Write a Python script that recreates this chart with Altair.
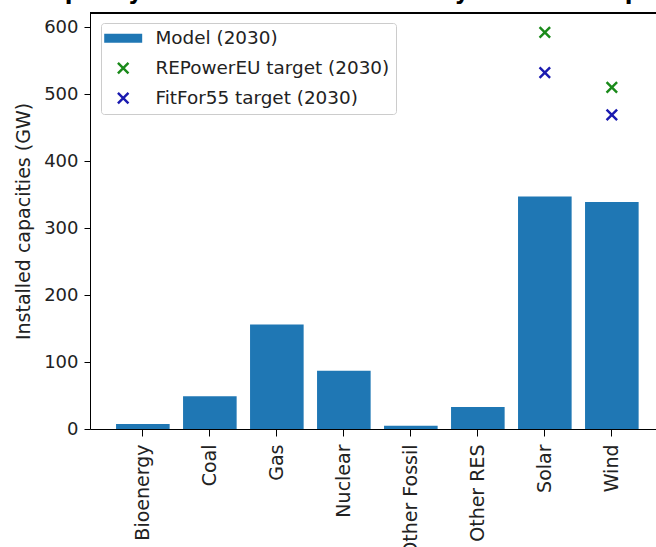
import altair as alt
import pandas as pd

# ---- data ----
categories = ["Bioenergy", "Coal", "Gas", "Nuclear", "Other Fossil", "Other RES", "Solar", "Wind"]
model_2030 = [7.5, 49, 156, 87, 5, 33, 347, 339]

target_categories = ["Solar", "Wind"]
repowereu_2030 = [592, 510]
fitfor55_2030 = [532, 469]

series_names = ["Model (2030)", "REPowerEU target (2030)", "FitFor55 target (2030)"]
series_colors = ["#1f77b4", "#1a8a1a", "#1a1ab0"]

y_ticks = [0, 100, 200, 300, 400, 500, 600]
y_max = 621

title_text = "Installed capacity assumed in the model by 2030 vs EU policy targets"
y_title = "Installed capacities (GW)"

# ---- tables ----
bars_df = pd.DataFrame({"category": categories, "value": model_2030})
pts_df = pd.concat([
    pd.DataFrame({"category": target_categories, "value": repowereu_2030, "series": series_names[1]}),
    pd.DataFrame({"category": target_categories, "value": fitfor55_2030, "series": series_names[2]}),
], ignore_index=True)

FONT = "DejaVu Sans"

rect_path = "M-3.1,-0.73H3.1V0.73H-3.1Z"
x_path = ("M-1,-0.72L0.72,1L1,0.72L-0.72,-1Z "
          "M-1,0.72L-0.72,1L1,-0.72L0.72,-1Z")

color_scale = alt.Scale(domain=series_names, range=series_colors)
shape_scale = alt.Scale(domain=series_names, range=[rect_path, x_path, x_path])

x_enc = alt.X("category:N", sort=categories,
              scale=alt.Scale(paddingInner=0.2, paddingOuter=0.324, align=0.6),
              axis=alt.Axis(title=None, labelAngle=-90, labelFontSize=19, labelPadding=8,
                            tickSize=7, labelColor="#222222", domainColor="#000000",
                            tickColor="#000000", grid=False))
y_enc = alt.Y("value:Q",
              scale=alt.Scale(domain=[0, y_max], nice=False, zero=True),
              axis=alt.Axis(title=y_title, values=y_ticks, labelFontSize=18, labelPadding=6,
                            tickSize=6, titleFontSize=19, titleFontWeight="normal",
                            titleColor="#222222", labelColor="#222222", titlePadding=10,
                            domainColor="#000000", tickColor="#000000", grid=False))

legend = alt.Legend(title=None, orient="none", legendX=11, legendY=10,
                    labelFontSize=18.4, labelColor="#222222", labelFont=FONT, labelLimit=400,
                    symbolSize=150, symbolOpacity=1, symbolStrokeWidth=0,
                    symbolOffset=7, labelOffset=23, rowPadding=11, padding=6,
                    fillColor="white", strokeColor="#cccccc", cornerRadius=3)

bars = alt.Chart(bars_df).mark_bar(color=series_colors[0]).encode(
    x=x_enc, y=y_enc,
)

points = alt.Chart(pts_df).mark_point(filled=True, size=150, opacity=1).encode(
    x=alt.X("category:N", sort=categories),
    y=alt.Y("value:Q"),
    color=alt.Color("series:N", scale=color_scale, legend=legend),
    shape=alt.Shape("series:N", scale=shape_scale, legend=legend),
)

top_spine = alt.Chart(bars_df).mark_rule(color="#000000", strokeWidth=1).encode(
    y=alt.datum(y_max)
)

chart = alt.layer(bars, points, top_spine).properties(
    width=566, height=416,
    autosize=alt.AutoSizeParams(type="none"),
    padding={"left": 90, "top": 13, "right": 0, "bottom": 118},
    title=alt.TitleParams(text=title_text, anchor="start", frame="group", dx=-172,
                          offset=-14, baseline="bottom", fontSize=22.5,
                          fontWeight="bold", font=FONT, color="#000000"),
).configure(font=FONT).configure_view(stroke=None).configure_axis(labelFont=FONT, titleFont=FONT)

chart.save("out.html", embed_options={"renderer": "svg", "actions": False})
